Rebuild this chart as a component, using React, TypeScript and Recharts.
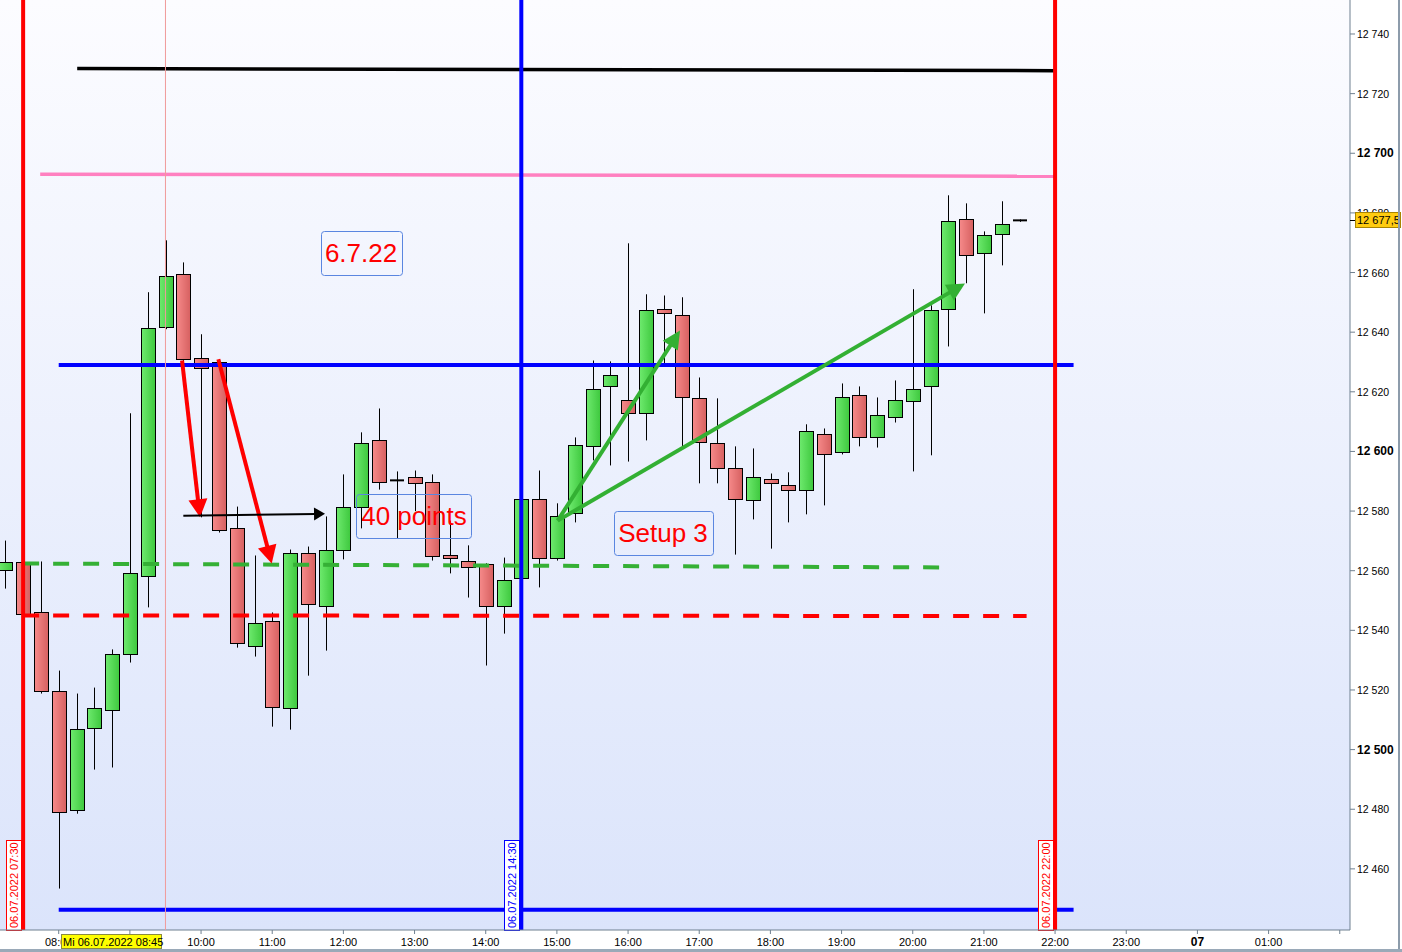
import React from "react";
import { ComposedChart, Bar, XAxis, YAxis, ReferenceLine, ReferenceDot } from "recharts";

// 15 minute candles, 06.07.2022
const TIMES = [
  "07:15", "07:30", "07:45", "08:00", "08:15", "08:30", "08:45", "09:00", "09:15", "09:30",
  "09:45", "10:00", "10:15", "10:30", "10:45", "11:00", "11:15", "11:30", "11:45", "12:00",
  "12:15", "12:30", "12:45", "13:00", "13:15", "13:30", "13:45", "14:00", "14:15", "14:30",
  "14:45", "15:00", "15:15", "15:30", "15:45", "16:00", "16:15", "16:30", "16:45", "17:00",
  "17:15", "17:30", "17:45", "18:00", "18:15", "18:30", "18:45", "19:00", "19:15", "19:30",
  "19:45", "20:00", "20:15", "20:30", "20:45", "21:00", "21:15", "21:30",
];
const OPEN = [
  12560.1, 12562.8, 12546.0, 12519.8, 12479.9, 12507.4, 12513.4, 12531.9, 12558.1, 12641.6,
  12659.4, 12631.2, 12629.9, 12574.2, 12534.9, 12543.0, 12514.1, 12566.1, 12548.0, 12567.1,
  12581.2, 12603.7, 12590.3, 12591.3, 12589.6, 12565.1, 12563.4, 12562.1, 12548.3, 12557.4,
  12583.9, 12564.4, 12579.2, 12601.7, 12622.1, 12617.1, 12612.8, 12647.7, 12645.6, 12617.8,
  12602.7, 12594.6, 12583.6, 12590.6, 12588.6, 12587.2, 12606.0, 12599.7, 12618.8, 12604.7,
  12611.7, 12616.8, 12621.8, 12647.7, 12677.9, 12666.4, 12672.8, 12677.5,
];
const HIGH = [
  12570.1, 12563.5, 12563.1, 12526.5, 12518.8, 12520.8, 12533.6, 12612.8, 12653.4, 12670.8,
  12663.4, 12639.3, 12631.0, 12581.5, 12565.1, 12546.0, 12567.1, 12568.1, 12578.2, 12592.3,
  12606.4, 12614.4, 12593.3, 12593.6, 12592.3, 12576.8, 12568.5, 12562.5, 12564.4, 12584.5,
  12593.6, 12582.6, 12604.7, 12630.5, 12630.2, 12669.8, 12652.7, 12652.3, 12651.7, 12624.8,
  12617.8, 12601.7, 12601.0, 12592.6, 12593.0, 12609.1, 12607.7, 12622.8, 12621.8, 12618.1,
  12623.8, 12654.4, 12649.0, 12685.9, 12683.2, 12673.8, 12683.9, 12677.8,
];
const LOW = [
  12554.0, 12545.0, 12518.8, 12453.4, 12478.5, 12493.3, 12494.0, 12529.2, 12547.7, 12641.0,
  12624.2, 12577.9, 12572.8, 12534.2, 12531.2, 12507.7, 12506.7, 12524.8, 12533.2, 12563.8,
  12574.2, 12587.2, 12570.8, 12580.0, 12563.4, 12559.1, 12551.0, 12528.2, 12538.9, 12557.0,
  12554.4, 12563.4, 12576.2, 12597.0, 12595.3, 12596.6, 12603.7, 12629.5, 12601.3, 12589.3,
  12589.3, 12565.4, 12577.2, 12567.4, 12576.2, 12578.9, 12581.9, 12599.0, 12601.7, 12601.3,
  12609.7, 12593.3, 12598.7, 12635.2, 12656.4, 12646.3, 12662.4, 12677.0,
];
const CLOSE = [
  12562.8, 12545.6, 12519.8, 12479.2, 12507.0, 12513.8, 12531.9, 12559.1, 12641.3, 12658.7,
  12630.9, 12627.9, 12573.8, 12535.6, 12542.6, 12514.4, 12565.8, 12548.7, 12566.8, 12581.2,
  12602.7, 12589.6, 12590.3, 12589.3, 12564.8, 12564.1, 12561.4, 12548.3, 12557.0, 12584.2,
  12564.1, 12578.5, 12602.0, 12621.1, 12625.5, 12612.8, 12647.3, 12646.3, 12618.1, 12603.0,
  12594.6, 12584.2, 12591.3, 12589.3, 12587.2, 12606.7, 12599.0, 12618.1, 12605.0, 12612.1,
  12617.1, 12621.1, 12647.3, 12677.2, 12665.8, 12672.5, 12676.2, 12677.5,
];

// axis (hours since 06.07 00:00, next day > 24)
const X_DOMAIN = [7.175, 26.144];
const X_TICKS = [8, 9, 10, 11, 12, 13, 14, 15, 16, 17, 18, 19, 20, 21, 22, 23, 24, 25, 26];
const X_LABELS = [
  "08:00", "09:00", "10:00", "11:00", "12:00", "13:00", "14:00", "15:00", "16:00", "17:00",
  "18:00", "19:00", "20:00", "21:00", "22:00", "23:00", "07", "01:00", "",
];
const Y_DOMAIN = [12439.5, 12751.4];
const Y_TICKS = [12460, 12480, 12500, 12520, 12540, 12560, 12580, 12600, 12620, 12640, 12660, 12680, 12700, 12720, 12740];
const LAST_PRICE = 12677.5;
const CROSSHAIR_T = 9.5;
const CROSSHAIR_TEXT = "Mi 06.07.2022 08:45";

// drawn levels: [t, price] start and end
const LINE_BLACK = [[8.26, 12728.4], [22.0, 12727.7]];
const LINE_PINK = [[7.74, 12693.0], [22.0, 12692.3]];
const LINE_BLUE_HIGH = [[8.0, 12629.0], [22.26, 12629.0]];
const LINE_BLUE_LOW = [[8.0, 12446.3], [22.26, 12446.3]];
const LINE_GREEN_DASH = [[7.5, 12562.4], [20.38, 12561.1]];
const LINE_RED_DASH = [[7.5, 12545.0], [21.6, 12544.8]];

// session markers
const SESSION_T = [7.5, 14.5, 22.0];
const SESSION_TEXT = ["06.07.2022 07:30", "06.07.2022 14:30", "06.07.2022 22:00"];

// arrows
const ARROWS_RED = [
  [[9.733, 12630.5], [9.985, 12577.9]],
  [[10.243, 12630.9], [10.993, 12562.4]],
];
const ARROW_BLACK = [[9.751, 12578.4], [11.742, 12579.1]];
const ARROWS_GREEN = [
  [[15.011, 12576.8], [16.73, 12640.6]],
  [[15.011, 12576.8], [20.734, 12656.3]],
];

// text notes
const NOTE_TEXT = ["6.7.22", "40 points", "Setup 3"];
const NOTE_T = [12.248, 12.992, 16.491];
const NOTE_P = [12666.4, 12578.2, 12572.7];

const toHours = (s: string) => {
  const [h, m] = s.split(":").map(Number);
  return h + m / 60;
};

const candles = TIMES.map((time, i) => ({
  t: toHours(time),
  open: OPEN[i],
  high: HIGH[i],
  low: LOW[i],
  close: CLOSE[i],
}));

const FONT = '"Liberation Sans", Arial, sans-serif';

const Candle = (props: any) => {
  const { x, y, width, height, payload } = props;
  if (x == null || payload == null) return null;
  const top = Math.min(y, y + height);
  const bottom = Math.max(y, y + height);
  const { open, high, low, close } = payload;
  const span = high - low;
  const toY = (p: number) => (span > 0 ? top + ((high - p) / span) * (bottom - top) : top);
  const cx = Math.round(x + width / 2);
  const yo = toY(open);
  const yc = toY(close);
  const bTop = Math.round(Math.min(yo, yc)) + 0.5;
  const bBot = Math.round(Math.max(yo, yc)) + 0.5;
  const fill = close > open ? "url(#gGreen)" : "url(#gRed)";
  return (
    <g>
      <line x1={cx + 0.5} x2={cx + 0.5} y1={top} y2={bottom} stroke="#000" strokeWidth={1} />
      {open === close ? (
        <line x1={cx - 7} x2={cx + 7} y1={yo} y2={yo} stroke="#000" strokeWidth={2} />
      ) : (
        <rect x={cx - 6.5} y={bTop} width={14} height={Math.max(bBot - bTop, 2)} fill={fill} stroke="#000" strokeWidth={1} />
      )}
    </g>
  );
};

const arrowShape = (color: string, w: number, headLen: number, headW: number) => (props: any) => {
  const { x1, y1, x2, y2 } = props;
  if (x1 == null) return null;
  const dx = x2 - x1;
  const dy = y2 - y1;
  const len = Math.hypot(dx, dy) || 1;
  const ux = dx / len;
  const uy = dy / len;
  const bx = x2 - ux * headLen;
  const by = y2 - uy * headLen;
  const px = -uy * (headW / 2);
  const py = ux * (headW / 2);
  return (
    <g>
      <line x1={x1} y1={y1} x2={bx + ux * 2} y2={by + uy * 2} stroke={color} strokeWidth={w} />
      <polygon points={`${x2},${y2} ${bx + px},${by + py} ${bx - px},${by - py}`} fill={color} />
    </g>
  );
};

const SessionLabel = (props: any) => {
  const { viewBox, text, color } = props;
  if (!viewBox) return null;
  const bottom = viewBox.y + viewBox.height;
  const w = 15;
  const h = 90;
  const bx = Math.round(viewBox.x) - 2 - w;
  return (
    <g>
      <rect x={bx + 0.5} y={bottom - h + 0.5} width={w} height={h} fill="#ffffff" stroke={color} strokeWidth={1} />
      <text
        transform={`translate(${bx + 12}, ${bottom - 2}) rotate(-90)`}
        fill={color}
        fontSize={11}
        fontFamily={FONT}
      >
        {text}
      </text>
    </g>
  );
};

const CrossLabel = (props: any) => {
  const { viewBox, text } = props;
  if (!viewBox) return null;
  const bottom = viewBox.y + viewBox.height;
  const right = Math.round(viewBox.x) - 4;
  return (
    <g>
      <rect x={right - 100 + 0.5} y={bottom + 4.5} width={100} height={14} fill="#ffff00" stroke="#8a8a40" strokeWidth={1} />
      <text x={right - 98} y={bottom + 16} fontSize={11} fontFamily={FONT} fill="#000">
        {text}
      </text>
    </g>
  );
};

const formatPrice = (v: number) => {
  const whole = Math.floor(v);
  const frac = Math.round((v - whole) * 10);
  const s = `${Math.floor(whole / 1000)} ${String(whole % 1000).padStart(3, "0")}`;
  return frac ? `${s},${frac}` : s;
};

const PriceLabel = (props: any) => {
  const { viewBox, value } = props;
  if (!viewBox) return null;
  const ax = viewBox.x + viewBox.width;
  const y = Math.round(viewBox.y);
  return (
    <g>
      <line x1={ax} x2={ax + 5} y1={y + 0.5} y2={y + 0.5} stroke="#000" />
      <rect x={ax + 5.5} y={y - 7.5} width={45} height={15} fill="#ffcc10" stroke="#a88400" />
      <text x={ax + 7} y={y + 4} fontSize={11} fontFamily={FONT} fill="#000">
        {formatPrice(value)}
      </text>
    </g>
  );
};

const charW: Record<string, number> = { ".": 0.278, " ": 0.278, i: 0.222, t: 0.278, s: 0.5, S: 0.667 };
const textWidth = (s: string, size: number) =>
  s.split("").reduce((acc, c) => acc + (charW[c] ?? 0.556), 0) * size;

const Note = (props: any) => {
  const { cx, cy, text } = props;
  if (cx == null) return null;
  const size = 26;
  const w = Math.round(textWidth(text, size) + 9);
  const h = 44;
  return (
    <g>
      <rect x={Math.round(cx - w / 2) + 0.5} y={Math.round(cy - h / 2) + 0.5} width={w} height={h} rx={3} fill="none" stroke="#5a86e0" strokeWidth={1} />
      <text x={cx} y={cy + 9} textAnchor="middle" fontSize={size} fontFamily={FONT} fill="#ff0000">
        {text}
      </text>
    </g>
  );
};

const YTick = (props: any) => {
  const { x, y, payload } = props;
  const v = payload.value;
  const bold = v % 100 === 0;
  return (
    <text x={x} y={y} dy={4} fontSize={bold ? 12 : 10.5} fontWeight={bold ? 700 : 400} fontFamily={FONT} fill="#000">
      {formatPrice(v)}
    </text>
  );
};

const XTick = (props: any) => {
  const { x, y, payload } = props;
  const idx = X_TICKS.indexOf(payload.value);
  const label = X_LABELS[idx] ?? "";
  const bold = label.length === 2;
  return (
    <text x={x} y={y + 10} textAnchor="middle" fontSize={bold ? 12 : 11} fontWeight={bold ? 700 : 400} fontFamily={FONT} fill="#000">
      {label}
    </text>
  );
};

const seg = (pts: number[][]) => pts.map(([x, y]) => ({ x, y }));

export default function App() {
  return (
    <div style={{ position: "fixed", left: 0, top: 0, width: 1402, height: 952, background: "#ffffff", overflow: "hidden" }}>
      <div
        style={{
          position: "absolute",
          left: 0,
          top: 0,
          width: 1350,
          height: 930,
          background: "linear-gradient(#fcfcff, #dbe4fb)",
        }}
      />
      <div style={{ position: "absolute", left: 0, top: 0 }}>
        <ComposedChart width={1402} height={952} data={candles} margin={{ top: 0, right: 0, left: 0, bottom: 0 }}>
          <defs>
            <linearGradient id="gGreen" x1="0" y1="0" x2="1" y2="0">
              <stop offset="0%" stopColor="#6eea6e" />
              <stop offset="100%" stopColor="#3ec83e" />
            </linearGradient>
            <linearGradient id="gRed" x1="0" y1="0" x2="1" y2="0">
              <stop offset="0%" stopColor="#f68a8a" />
              <stop offset="100%" stopColor="#d66060" />
            </linearGradient>
          </defs>
          <XAxis
            type="number"
            dataKey="t"
            domain={X_DOMAIN}
            allowDataOverflow
            ticks={X_TICKS}
            interval={0}
            height={22}
            tickSize={4}
            tickMargin={2}
            axisLine={{ stroke: "#6f8090" }}
            tickLine={{ stroke: "#6f8090" }}
            tick={<XTick />}
          />
          <YAxis
            orientation="right"
            type="number"
            domain={Y_DOMAIN}
            allowDataOverflow
            ticks={Y_TICKS}
            interval={0}
            width={52}
            tickSize={5}
            tickMargin={2}
            axisLine={{ stroke: "#6f8090" }}
            tickLine={{ stroke: "#6f8090" }}
            tick={<YTick />}
          />
          <ReferenceLine
            x={CROSSHAIR_T}
            stroke="#f09a9a"
            strokeWidth={1}
            zIndex={2600}
            label={<CrossLabel text={CROSSHAIR_TEXT} zIndex={2600} />}
          />
          <Bar
            dataKey={(d: any) => [d.low, d.high]}
            barSize={14}
            isAnimationActive={false}
            shape={(p: any) => <Candle {...p} />}
          />
          <ReferenceLine segment={seg(LINE_PINK)} stroke="#ff80c0" strokeWidth={3.5} />
          <ReferenceLine segment={seg(LINE_BLACK)} stroke="#000000" strokeWidth={3.5} />
          <ReferenceLine segment={seg(LINE_GREEN_DASH)} stroke="#35b035" strokeWidth={4} strokeDasharray="16 14" />
          <ReferenceLine segment={seg(LINE_RED_DASH)} stroke="#ff0000" strokeWidth={4} strokeDasharray="16 14" />
          <ReferenceLine segment={seg(LINE_BLUE_HIGH)} stroke="#0000ff" strokeWidth={4} />
          <ReferenceLine segment={seg(LINE_BLUE_LOW)} stroke="#0000ff" strokeWidth={4} />
          {SESSION_T.map((t, i) => {
            const color = i === 1 ? "#0000ff" : "#ff0000";
            return (
              <ReferenceLine
                key={`s${i}`}
                x={t}
                stroke={color}
                strokeWidth={4}
                label={<SessionLabel text={SESSION_TEXT[i]} color={color} />}
              />
            );
          })}
          {ARROWS_RED.map((a, i) => (
            <ReferenceLine key={`ar${i}`} segment={seg(a)} shape={arrowShape("#ff0000", 4, 18, 19)} />
          ))}
          <ReferenceLine segment={seg(ARROW_BLACK)} shape={arrowShape("#000000", 2, 11, 13)} />
          {ARROWS_GREEN.map((a, i) => (
            <ReferenceLine key={`ag${i}`} segment={seg(a)} shape={arrowShape("#33b033", 4, 18, 18)} />
          ))}
          {NOTE_TEXT.map((text, i) => (
            <ReferenceDot
              key={`n${i}`}
              x={NOTE_T[i]}
              y={NOTE_P[i]}
              r={0}
              shape={(p: any) => <Note {...p} text={text} />}
            />
          ))}
          <ReferenceLine
            y={LAST_PRICE}
            stroke="none"
            zIndex={2600}
            label={<PriceLabel value={LAST_PRICE} zIndex={2600} />}
          />
        </ComposedChart>
      </div>
      <div style={{ position: "absolute", left: 1398, top: 0, width: 2, height: 952, background: "#8d9cab" }} />
      <div style={{ position: "absolute", left: 0, top: 949, width: 1402, height: 3, background: "#9aa9b8" }} />
    </div>
  );
}
